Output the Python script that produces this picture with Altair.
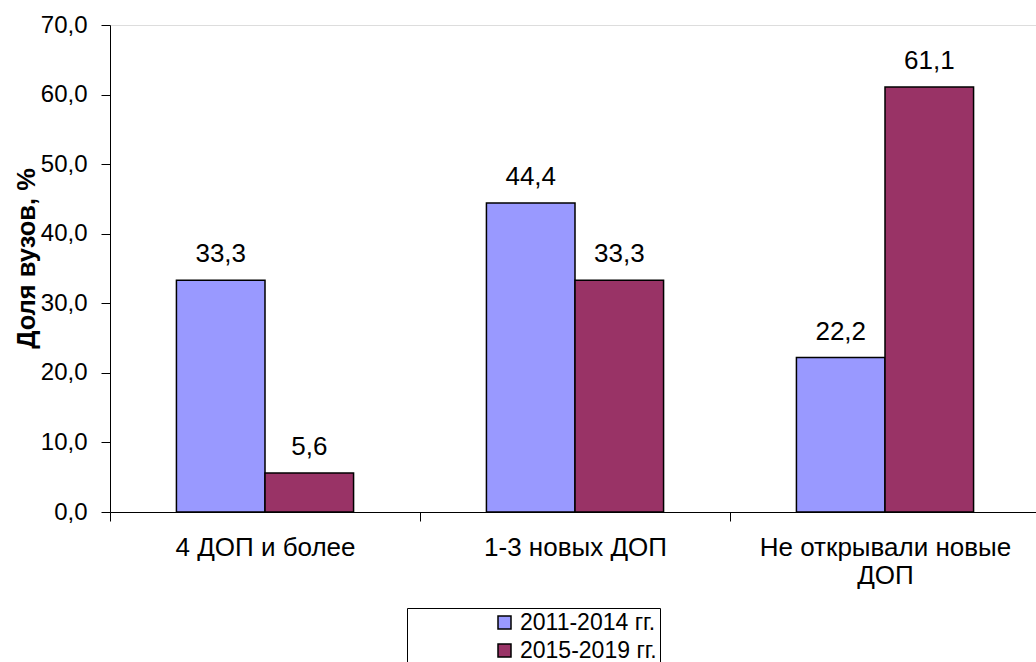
import altair as alt
import pandas as pd

# Categories (x axis), series names and values (% of universities)
categories = ["4 ДОП и более", "1-3 новых ДОП", "Не открывали новые\nДОП"]
series = ["2011-2014 гг.", "2015-2019 гг."]
values_2011_2014 = [33.3, 44.4, 22.2]
values_2015_2019 = [5.6, 33.3, 61.1]
colors = ["#9999FF", "#993366"]

rows = []
for cat, v1, v2 in zip(categories, values_2011_2014, values_2015_2019):
    rows.append({"cat": cat, "series": series[0], "value": v1})
    rows.append({"cat": cat, "series": series[1], "value": v2})
df = pd.DataFrame(rows)

FONT = "Liberation Sans"

x_enc = alt.X(
    "cat:N",
    sort=categories,
    scale=alt.Scale(paddingInner=0, paddingOuter=0, range=[0, 930]),
    axis=alt.Axis(
        title=None,
        tickBand="extent",
        labelExpr="split(datum.label, '\\n')",
        labelFontSize=26,
        labelLineHeight=28,
        labelPadding=13,
        labelAngle=0,
        labelLimit=0,
        tickSize=9,
        tickColor="#000000",
        domainColor="#000000",
        labelColor="#000000",
        labelFont=FONT,
    ),
)
xoff_enc = alt.XOffset(
    "series:N", sort=series, scale=alt.Scale(paddingOuter=0.75, paddingInner=0)
)
y_enc = alt.Y(
    "value:Q",
    scale=alt.Scale(domain=[0, 70], nice=False),
    axis=alt.Axis(
        title="Доля вузов, %",
        values=[0, 10, 20, 30, 40, 50, 60, 70],
        labelExpr="replace(format(datum.value, '.1f'), '.', ',')",
        labelFontSize=24,
        labelFont=FONT,
        labelColor="#000000",
        labelPadding=14,
        tickSize=9,
        tickColor="#000000",
        domainColor="#000000",
        grid=False,
        titleFont=FONT,
        titleFontSize=25.5,
        titleFontWeight="bold",
        titleColor="#000000",
        titleAngle=-90,
        titleX=-76,
        titleY=233,
        titleAlign="center",
        titleBaseline="alphabetic",
    ),
)

bars = alt.Chart(df).mark_bar(stroke="#000000", strokeWidth=1.5).encode(
    x=x_enc,
    xOffset=xoff_enc,
    y=y_enc,
    color=alt.Color(
        "series:N",
        sort=series,
        scale=alt.Scale(domain=series, range=colors),
        legend=alt.Legend(
            title=None,
            orient="none",
            legendX=297,
            legendY=583,
            direction="vertical",
            symbolType="square",
            symbolSize=169,
            symbolStrokeColor="#000000",
            symbolStrokeWidth=1.5,
            symbolOffset=83,
            labelFontSize=23,
            labelFont=FONT,
            labelColor="#000000",
            labelOffset=4,
            rowPadding=4,
            padding=3,
            strokeColor="#000000",
            fillColor="#FFFFFF",
        ),
    ),
)

labels = alt.Chart(df).transform_calculate(
    label="replace(format(datum.value, '.1f'), '.', ',')"
).mark_text(
    font=FONT, fontSize=26, color="#000000", baseline="alphabetic", dy=-18
).encode(
    x=x_enc,
    xOffset=xoff_enc,
    y=y_enc,
    text="label:N",
)

chart = (
    alt.layer(bars, labels)
    .properties(
        width=926,
        height=487,
        autosize=alt.AutoSizeParams(type="none"),
        padding={"left": 110, "top": 25, "right": 0, "bottom": 150},
    )
    .configure_view(stroke=None)
    .configure(background="#FFFFFF")
)

chart.save("out.html", embed_options={"renderer": "svg", "actions": False})
